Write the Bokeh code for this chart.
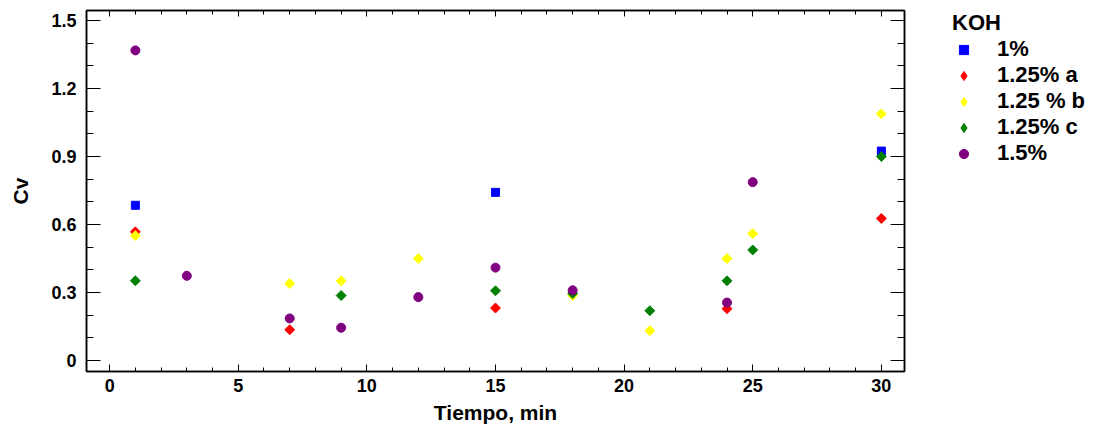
import math
from bokeh.plotting import figure
from bokeh.layouts import row
from bokeh.models import (Range1d, LinearAxis, FixedTicker, Legend, LegendItem)
from bokeh.embed import file_html
from bokeh.resources import INLINE

# ---- data ----
series_names = ["1%", "1.25% a", "1.25 % b", "1.25% c", "1.5%"]
series_colors = ["#0000FF", "#FF0000", "#FFFF00", "#008000", "#800080"]

x_1 = [1, 15, 30]
y_1 = [0.685, 0.742, 0.924]

x_125a = [1, 7, 15, 24, 30]
y_125a = [0.568, 0.136, 0.232, 0.229, 0.627]

x_125b = [1, 7, 9, 12, 18, 21, 24, 25, 30]
y_125b = [0.551, 0.340, 0.352, 0.450, 0.287, 0.132, 0.450, 0.560, 1.088]

x_125c = [1, 9, 15, 18, 21, 24, 25, 30]
y_125c = [0.352, 0.287, 0.308, 0.296, 0.220, 0.352, 0.488, 0.900]

x_15 = [1, 3, 7, 9, 12, 15, 18, 24, 25]
y_15 = [1.368, 0.374, 0.186, 0.145, 0.280, 0.410, 0.310, 0.256, 0.787]

x_ticks = [0, 5, 10, 15, 20, 25, 30]
x_minor = list(range(0, 31))
y_ticks = [0, 0.3, 0.6, 0.9, 1.2, 1.5]
y_tick_labels = ["0", "0.3", "0.6", "0.9", "1.2", "1.5"]
y_minor = [round(i * 0.1, 1) for i in range(0, 16)]

series_x = [x_1, x_125a, x_125b, x_125c, x_15]
series_y = [y_1, y_125a, y_125b, y_125c, y_15]

FONT = "Liberation Sans"

p = figure(frame_width=818, frame_height=361,
           x_range=Range1d(-0.9, 30.9), y_range=Range1d(-0.048, 1.544),
           output_backend="svg", toolbar_location=None,
           min_border_left=86, min_border_right=2,
           min_border_top=10, min_border_bottom=58)
p.xgrid.visible = False
p.ygrid.visible = False
p.outline_line_color = "black"
p.outline_line_width = 1.5
p.background_fill_color = "white"
p.border_fill_color = "white"


def style_axis(ax, major_in, minor_in, labels=True):
    ax.major_tick_in = major_in
    ax.major_tick_out = 0
    ax.minor_tick_in = minor_in
    ax.minor_tick_out = 0
    ax.axis_line_color = "black"
    ax.axis_line_width = 1.5
    ax.major_tick_line_color = "black"
    ax.minor_tick_line_color = "black"
    ax.major_tick_line_width = 1
    ax.minor_tick_line_width = 1
    if labels:
        ax.major_label_text_font = FONT
        ax.major_label_text_font_style = "bold"
        ax.major_label_text_font_size = "18px"
        ax.major_label_text_color = "black"
        ax.axis_label_text_font = FONT
        ax.axis_label_text_font_style = "bold"
        ax.axis_label_text_font_size = "21px"
        ax.axis_label_text_color = "black"
    else:
        ax.major_label_text_font_size = "0px"
        ax.major_label_standoff = 0
        ax.axis_label = None


overrides = {v: l for v, l in zip(y_ticks, y_tick_labels)}

xa = p.xaxis[0]
xa.ticker = FixedTicker(ticks=x_ticks, minor_ticks=x_minor)
xa.axis_label = "Tiempo, min"
style_axis(xa, 7, 4)
xa.major_label_standoff = 7
xa.axis_label_standoff = 6

ya = p.yaxis[0]
ya.ticker = FixedTicker(ticks=y_ticks, minor_ticks=y_minor)
ya.major_label_overrides = overrides
ya.axis_label = "Cv"
style_axis(ya, 14, 7)
ya.major_label_standoff = 10
ya.axis_label_standoff = 16

# mirrored tick marks on the right and top frame edges (labels hidden)
ra = LinearAxis(ticker=FixedTicker(ticks=y_ticks, minor_ticks=y_minor))
style_axis(ra, 14, 7, labels=False)
ra.major_label_overrides = {v: "" for v in y_ticks}
p.add_layout(ra, "right")

ta = LinearAxis(ticker=FixedTicker(ticks=x_ticks, minor_ticks=x_minor))
style_axis(ta, 6, 4, labels=False)
ta.major_label_overrides = {v: "" for v in x_ticks}
p.add_layout(ta, "above")

diamond = math.pi / 4
plot_markers = ["square", "square", "square", "square", "circle"]
plot_angles = [0, diamond, diamond, diamond, 0]
plot_sizes = [8, 7, 7, 7, 9]
for xs, ys, m, a, s, c in zip(series_x, series_y, plot_markers, plot_angles,
                              plot_sizes, series_colors):
    p.scatter(xs, ys, marker=m, angle=a, size=s, color=c)

# ---- legend panel (separate figure so it is not clipped by the frame) ----
lf = figure(width=184, height=431, x_range=Range1d(-3, -2), y_range=Range1d(-3, -2),
            output_backend="svg", toolbar_location=None,
            x_axis_location=None, y_axis_location=None,
            min_border_left=46, min_border_top=10, min_border_right=0,
            min_border_bottom=0)
lf.xgrid.visible = False
lf.ygrid.visible = False
lf.outline_line_color = None
lf.background_fill_color = "white"
lf.border_fill_color = "white"

legend_markers = ["square", "diamond", "diamond", "diamond", "circle"]
proxies = [lf.scatter(xs, ys, marker=m, color=c)
           for xs, ys, m, c in zip(series_x, series_y, legend_markers, series_colors)]

legend = Legend(items=[LegendItem(label=n, renderers=[r])
                       for n, r in zip(series_names, proxies)],
                location="top_left", title="KOH")
legend.title_text_font = FONT
legend.title_text_font_style = "bold"
legend.title_text_font_size = "22px"
legend.title_text_color = "black"
legend.label_text_font = FONT
legend.label_text_font_style = "bold"
legend.label_text_font_size = "22px"
legend.label_text_color = "black"
legend.border_line_color = None
legend.background_fill_alpha = 0
legend.padding = 0
legend.margin = 0
legend.glyph_width = 23
legend.glyph_height = 25
legend.label_height = 23
legend.label_standoff = 22
legend.spacing = 0
legend.title_standoff = 0
lf.add_layout(legend, "center")

layout = row(p, lf)
open("out.html", "w").write(file_html(layout, INLINE))
